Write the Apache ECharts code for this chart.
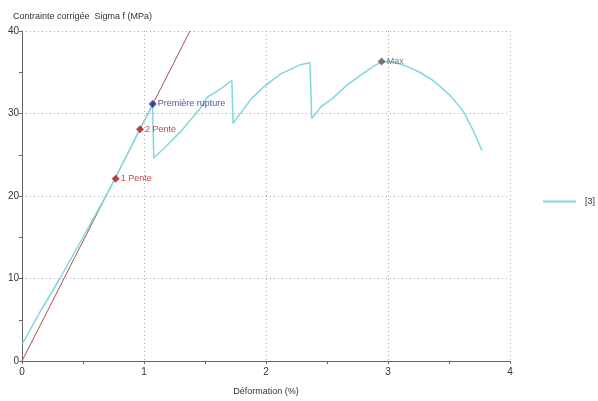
<!DOCTYPE html>
<html>
<head>
<meta charset="utf-8">
<script src="https://cdn.jsdelivr.net/npm/echarts@6/dist/echarts.min.js"></script>
<style>html,body{margin:0;padding:0;background:#fff}#c{width:598px;height:401px}</style>
</head>
<body>
<div id="c"></div>
<script>
// Curve [3] : déformation (%) / contrainte (MPa)
const curveX = [0, 0.15, 0.31, 0.5, 0.68, 0.77, 0.97, 1.07, 1.08, 1.2, 1.3, 1.46, 1.52, 1.61, 1.72, 1.73, 1.78, 1.88, 1.98, 2.12, 2.28, 2.36, 2.375, 2.45, 2.55, 2.66, 2.77, 2.88, 2.95, 3.05, 3.15, 3.26, 3.37, 3.51, 3.62, 3.7, 3.77];
const curveY = [2.0, 6.0, 10.0, 15.0, 19.8, 22.3, 28.2, 31.0, 24.6, 26.3, 27.8, 30.6, 32.0, 32.8, 34.0, 28.8, 29.8, 31.8, 33.2, 34.8, 35.9, 36.15, 29.4, 30.8, 31.9, 33.4, 34.6, 35.7, 36.3, 36.2, 35.75, 35.0, 34.0, 32.2, 30.2, 27.9, 25.5];
// Slope line
const slopeX = [0, 1.377];
const slopeY = [0, 40];
// Marked points
const markNames = ['1 Pente', '2 Pente', 'Première rupture', 'Max'];
const markX = [0.768, 0.967, 1.071, 2.948];
const markY = [22.1, 28.1, 31.15, 36.3];
const markColors = ['#b01818', '#b01818', '#22228a', '#5a5a5a'];
const xTicks = [0, 1, 2, 3, 4];
const yTicks = [0, 10, 20, 30, 40];

const zip = (a, b) => a.map((v, i) => [v, b[i]]);
const chart = echarts.init(document.getElementById('c'), null, {renderer: 'canvas'});
const font = 'Liberation Sans, Arial, sans-serif';
chart.setOption({
  animation: false,
  backgroundColor: '#fff',
  title: {
    text: 'Contrainte corrigée  Sigma f (MPa)',
    left: 8, top: 7,
    textStyle: {fontSize: 9, fontWeight: 'normal', color: '#333', fontFamily: font}
  },
  grid: {left: 22, right: 88, top: 31, bottom: 34, containLabel: false},
  legend: {
    data: ['[3]'],
    left: 543, top: 197, padding: 0,
    icon: 'rect', itemWidth: 33, itemHeight: 2,
    textStyle: {fontSize: 9, color: '#333', fontFamily: font, padding: [0, 0, 0, 4]}
  },
  xAxis: {
    type: 'value', min: xTicks[0], max: xTicks[xTicks.length - 1], interval: 1,
    name: 'Déformation (%)', nameLocation: 'middle', nameGap: 26,
    nameTextStyle: {fontSize: 9, color: '#333', fontFamily: font},
    axisLine: {lineStyle: {color: '#666', width: 1}},
    axisTick: {show: true, length: 3, inside: false, lineStyle: {color: '#666'}},
    minorTick: {show: true, splitNumber: 2, length: 3, lineStyle: {color: '#666'}},
    axisLabel: {fontSize: 10, color: '#333', margin: 6, fontFamily: font},
    splitLine: {show: true, lineStyle: {color: '#aaa', type: [1, 3], width: 1}}
  },
  yAxis: {
    type: 'value', min: yTicks[0], max: yTicks[yTicks.length - 1], interval: 10,
    axisLine: {show: true, lineStyle: {color: '#666', width: 1}},
    axisTick: {show: true, length: 3, lineStyle: {color: '#666'}},
    minorTick: {show: true, splitNumber: 2, length: 3, lineStyle: {color: '#666'}},
    axisLabel: {fontSize: 10, color: '#333', margin: 3, fontFamily: font},
    splitLine: {show: true, lineStyle: {color: '#aaa', type: [1, 3], width: 1}}
  },
  series: [
    {
      name: 'pente', type: 'line', data: zip(slopeX, slopeY), symbol: 'none',
      lineStyle: {color: '#a8504a', width: 1}, clip: true, z: 2
    },
    {
      name: '[3]', type: 'line', data: zip(curveX, curveY), symbol: 'none',
      itemStyle: {color: '#80d8dc'},
      lineStyle: {color: '#80d8dc', width: 1.5}, z: 3
    },
    {
      name: 'points', type: 'scatter', symbol: 'diamond', symbolSize: 8, z: 5,
      data: markNames.map((n, i) => ({
        name: n, value: [markX[i], markY[i]],
        itemStyle: {color: markColors[i]},
        label: {show: true, position: 'right', distance: 1, formatter: n,
          fontSize: 9, color: markColors[i], fontFamily: font}
      }))
    }
  ]
});
</script>
</body>
</html>
